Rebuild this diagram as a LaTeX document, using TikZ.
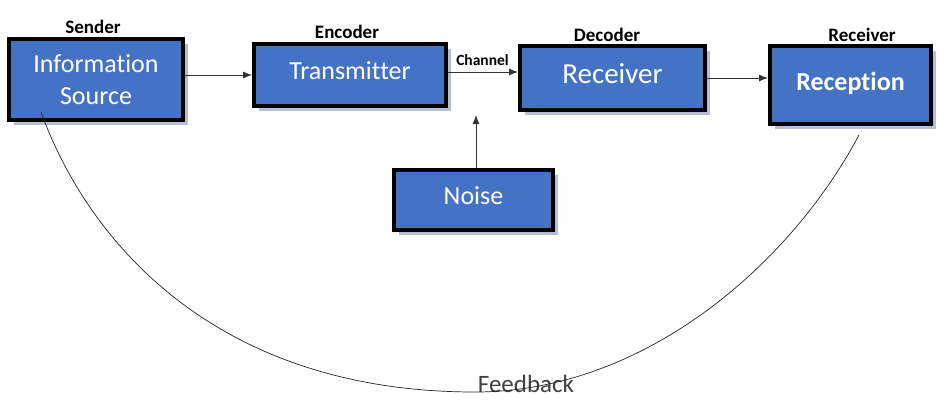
\documentclass[tikz,border=0pt]{standalone}
\usepackage{fontspec}
\setmainfont[Ligatures=NoCommon]{Carlito}
\usetikzlibrary{arrows.meta,shadows}
\definecolor{boxblue}{RGB}{68,114,196}
\definecolor{shade}{RGB}{165,175,195}
\definecolor{fbgray}{RGB}{64,64,64}

\begin{document}
\begin{tikzpicture}[x=1pt,y=1pt,
    block/.style={draw=black,line width=4pt,fill=boxblue,text=white,
      font=\fontsize{26}{32}\selectfont,inner sep=0pt,
      drop shadow={shadow xshift=4.5pt,shadow yshift=-4.5pt,fill=shade,opacity=0.8}},
    oneline/.style={text depth=8pt},
    tag/.style={font=\fontsize{19}{23}\selectfont\bfseries},
    link/.style={draw=black!80,line width=0.8pt,-{Latex[length=9pt,width=7pt]}},
    fbline/.style={draw=black!85,line width=0.7pt}]
    \useasboundingbox (0,0) rectangle (939,-400);
    \node[block,minimum width=174pt,minimum height=81pt,align=center] (src) at (96,-79.5) {Information\\Source};
    \node[block,oneline,minimum width=192pt,minimum height=62pt] (trans) at (350,-75) {Transmitter};
    \node[block,oneline,minimum width=185pt,minimum height=64pt,font=\fontsize{29}{34}\selectfont] (rcv) at (612.5,-78) {Receiver};
    \node[block,oneline,minimum width=161pt,minimum height=78pt,font=\fontsize{26}{32}\selectfont\bfseries] (rec) at (850.5,-85) {Reception};
    \node[block,oneline,minimum width=159pt,minimum height=60pt] (noise) at (473.5,-200) {Noise};
    \node[tag] (sender) at (93,-27) {Sender};
    \node[tag] (encoder) at (347,-32) {Encoder};
    \node[tag] (decoder) at (607,-35) {Decoder};
    \node[tag] (receiver) at (862,-35) {Receiver};
    \node[font=\fontsize{15.5}{18}\selectfont\bfseries] (channel) at (482.5,-60) {Channel};
    \node[font=\fontsize{25}{30}\selectfont,text=fbgray] (feedback) at (526,-384) {Feedback};
    \draw[link] (src.east |- trans.west) -- (trans.west);
    \draw[link] ([yshift=3pt]trans.east) -- ([yshift=3pt]trans.east -| rcv.west);
    \draw[link] (rcv.east) -- (rcv.east -| rec.west);
    \coordinate (hit) at (476,-115);
    \draw[link] (noise.north -| hit) -- (hit);
    \coordinate (fbA) at (41,-112);
    \coordinate (fbC) at (475,-392);
    \coordinate (fbB) at (859,-135);
    \draw[fbline] (fbA) to[out=-70,in=180,out distance=142pt,in distance=256pt] (fbC)
    to[out=0,in=-118,out distance=170pt,in distance=146pt] (fbB);
\end{tikzpicture}
\end{document}
